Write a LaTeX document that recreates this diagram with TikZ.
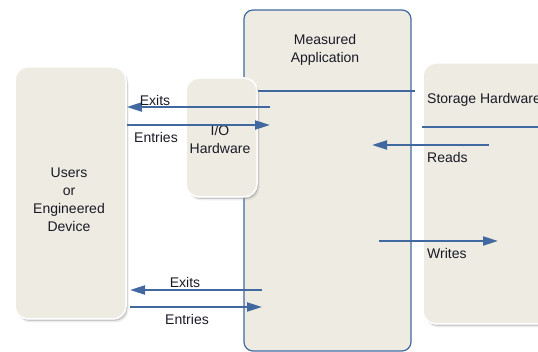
\documentclass[tikz,border=0pt]{standalone}
\usepackage{fontspec}
\setmainfont{Liberation Sans}
\usetikzlibrary{arrows.meta,shadows}
\definecolor{panel}{HTML}{EDEBE2}
\definecolor{flow}{HTML}{4169A0}
\definecolor{ink}{HTML}{1A1A26}
\tikzset{
  panelbox/.style={draw=white, line width=1.5pt, fill=panel, rounded corners=13pt,
    inner sep=0pt,
    general shadow={shadow xshift=2.5pt, shadow yshift=-3.5pt, fill=black!40, opacity=0.18},
    drop shadow={shadow xshift=1.5pt, shadow yshift=-2pt, fill=black!55, opacity=0.3}},
  appbox/.style={draw=flow, line width=1.2pt, fill=panel, rounded corners=9pt, inner sep=0pt},
  txt/.style={text=ink, font=\fontsize{14}{18}\selectfont, align=center, inner sep=0pt},
  flowline/.style={draw=flow, line width=2pt},
  arr/.style={flowline, -{Triangle[length=15pt,width=9pt]}}
}
\begin{document}
\begin{tikzpicture}[x=1pt, y=-1pt]
  \useasboundingbox (0,0) rectangle (538,352);

  % boxes
  \node[appbox, minimum width=167pt, minimum height=341pt] (app) at (327.5,180.5) {};
  \node[panelbox, minimum width=111pt, minimum height=252pt] (users) at (70.5,193) {};
  \node[panelbox, minimum width=71pt, minimum height=119pt] (io) at (221.5,137.5) {};
  \node[panelbox, minimum width=140pt, minimum height=261pt] (store) at (493,193.5) {};

  % box titles
  \node[txt] (usersT) at (69,200) {Users\\or\\Engineered\\Device};
  \node[txt] (ioT) at (220,139) {I/O\\Hardware};
  \node[txt] (appT) at (325,50) {Measured\\Application};
  \node[txt, anchor=west] (storeT) at (427,100) {Storage Hardware};

  % plain links
  \coordinate (appR) at (415,91);
  \draw[flowline] (io.east |- appR) -- (appR);
  \coordinate (storeR) at (540,127);
  \draw[flowline] (store.west |- storeR) -- (storeR);

  % I/O traffic
  \coordinate (exA) at (270,107);
  \draw[arr] (exA) -- (exA -| users.east);
  \coordinate (enA) at (270,125);
  \draw[arr] (users.east |- enA) -- (enA);
  \node[txt] (exAT) at (155,100) {Exits};
  \node[txt] (enAT) at (156,137) {Entries};

  % storage traffic
  \coordinate (rdS) at (489,145);
  \coordinate (rdE) at (372,145);
  \draw[arr] (rdS) -- (rdE);
  \node[txt, anchor=west] (rdT) at (427,157) {Reads};
  \coordinate (wrS) at (379,241);
  \coordinate (wrE) at (498,241);
  \draw[arr] (wrS) -- (wrE);
  \node[txt, anchor=west] (wrT) at (427,253) {Writes};

  % direct traffic
  \coordinate (exBs) at (262,290);
  \coordinate (exBe) at (130,290);
  \draw[arr] (exBs) -- (exBe);
  \coordinate (enBs) at (130,307);
  \coordinate (enBe) at (262,307);
  \draw[arr] (enBs) -- (enBe);
  \node[txt] (exBT) at (185,282) {Exits};
  \node[txt] (enBT) at (187,319) {Entries};
\end{tikzpicture}
\end{document}
